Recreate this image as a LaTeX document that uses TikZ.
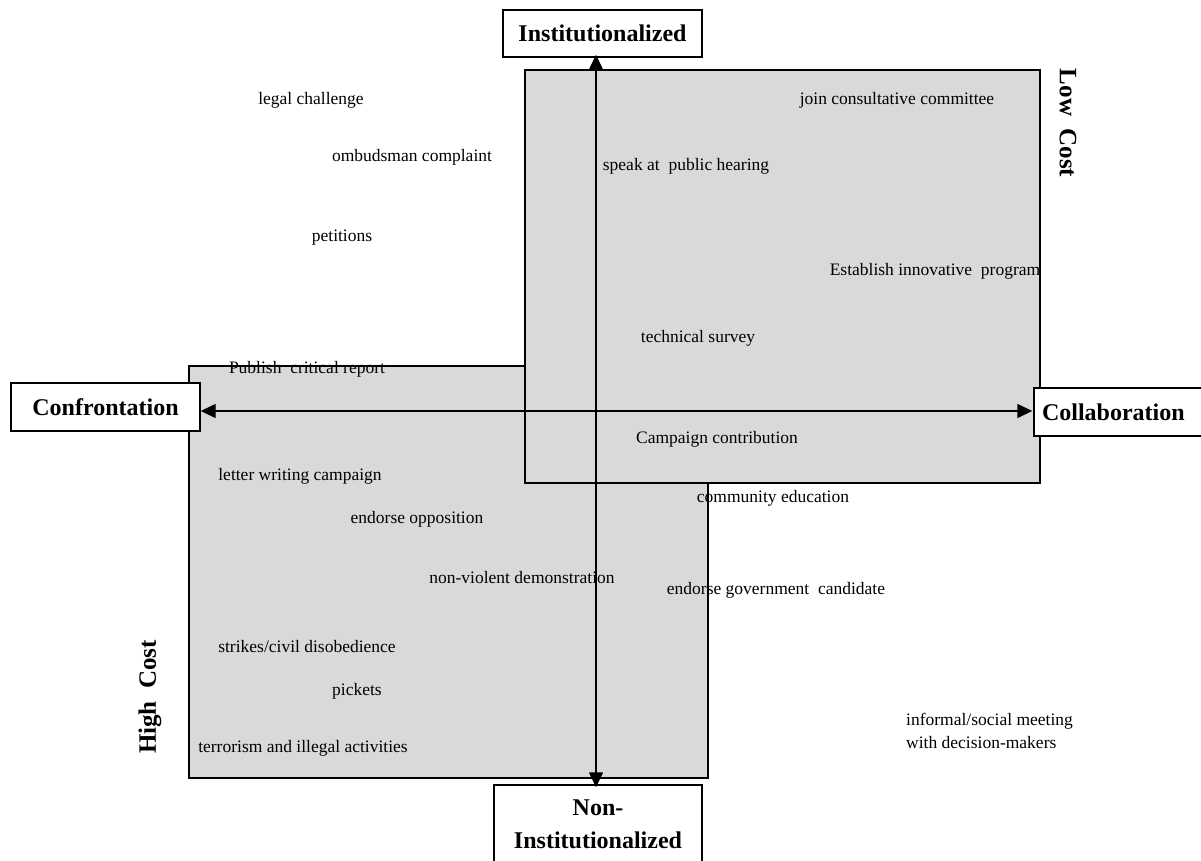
\documentclass[tikz,border=0pt]{standalone}
\usepackage{fontspec}
\setmainfont{Liberation Serif}
\usetikzlibrary{arrows.meta}
\definecolor{boxgray}{RGB}{217,217,217}
\tikzset{
  zone/.style={draw=black, line width=1.4pt, fill=boxgray},
  axislabel/.style={draw=black, line width=1.4pt, fill=white, inner sep=0pt, font=\fontsize{24}{27}\selectfont\bfseries, align=center},
  costlabel/.style={inner sep=0pt, font=\fontsize{25}{28}\selectfont\bfseries},
  act/.style={inner sep=0pt, font=\fontsize{17.5}{23}\selectfont, align=left},
  axis/.style={line width=1.4pt, {Triangle[length=15pt,width=14pt]}-{Triangle[length=15pt,width=14pt]}}
}
\begin{document}
\begin{tikzpicture}[x=1pt,y=-1pt]
\useasboundingbox (0,0) rectangle (1201,861);
% quadrant zones
\draw[zone] (189,366) rectangle (708,778);
\draw[zone] (525,70) rectangle (1040,483);
% axis boxes
\node[axislabel, minimum width=199pt, minimum height=47pt] (inst) at (602.5,33.5) {Institutionalized};
\node[axislabel, minimum width=208pt, minimum height=78pt] (noninst) at (598,824) {Non-\\[6pt]Institutionalized};
\node[axislabel, minimum width=189pt, minimum height=48pt] (conf) at (105.5,407) {Confrontation};
\node[axislabel, minimum width=168pt, minimum height=48pt, text width=152pt, align=left] (collab) at (1118,412) {Collaboration};
% cost labels
\node[costlabel, rotate=-90] (low) at (1068,123) {Low\ \ Cost};
\node[costlabel, rotate=90] (high) at (150,697) {High\ \ Cost};
% axes
\coordinate (vx) at (596,0);
\coordinate (hy) at (0,411);
\draw[axis] ([yshift=3pt]inst.south -| vx) -- ([yshift=-3pt]noninst.north -| vx);
\draw[axis] (conf.east |- hy) -- ([xshift=-1pt]collab.west |- hy);
% activities
\node[act] (a1) at (311,100) {legal challenge};
\node[act] (a2) at (412,157) {ombudsman complaint};
\node[act] (a3) at (342,238) {petitions};
\node[act] (a4) at (897,100) {join consultative committee};
\node[act] (a5) at (686,166) {speak at\ \ public hearing};
\node[act] (a6) at (935,271) {Establish innovative\ \ program};
\node[act] (a7) at (698,338) {technical survey};
\node[act] (a8) at (307,369) {Publish\ \ critical report};
\node[act] (a9) at (717,439) {Campaign contribution};
\node[act] (a10) at (300,476) {letter writing campaign};
\node[act] (a11) at (773,498) {community education};
\node[act] (a12) at (417,519) {endorse opposition};
\node[act] (a13) at (522,578) {non-violent demonstration};
\node[act] (a14) at (776,590) {endorse government\ \ candidate};
\node[act] (a15) at (307,647) {strikes/civil disobedience};
\node[act] (a16) at (357,691) {pickets};
\node[act] (a17) at (303,748) {terrorism and illegal activities};
\node[act, anchor=west] (a18) at (906,731) {informal/social meeting\\with decision-makers};
\end{tikzpicture}
\end{document}
